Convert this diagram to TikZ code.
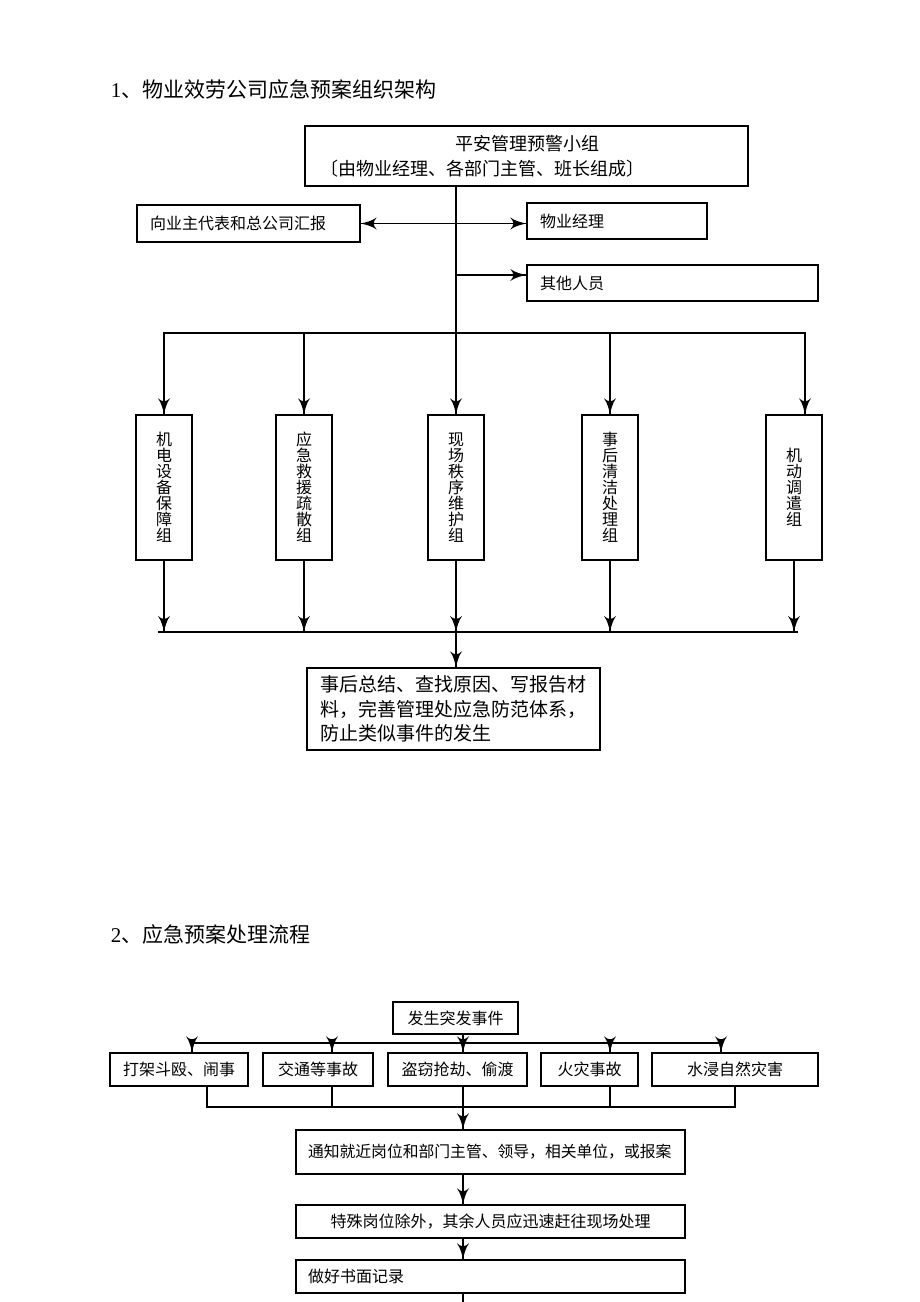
\documentclass[tikz,border=0pt]{standalone}
\usepackage{fontspec}
\usepackage{tikz}
\setmainfont{Liberation Serif}
\newfontfamily\cjk{Noto Sans CJK SC}
\usetikzlibrary{arrows}
\usetikzlibrary{decorations.markings}
\tikzset{->/.style = {decoration={markings,
                                  mark=at position 1 with {\arrow[scale=2.4]{latex'}}},
                      postaction={decorate}}}
\tikzset{<->/.style = {decoration={markings,
                                   mark=at position 0 with {\arrowreversed[scale=2.4]{latex'}},
                                   mark=at position 1 with {\arrow[scale=2.4]{latex'}}},
                       postaction={decorate}}}
\tikzset{box/.style = {draw, line width=1.3pt, inner sep=0pt, font=\cjk\fontsize{16}{20}\selectfont},
         lbox/.style = {box, align=left, inner xsep=13pt},
         vbox/.style = {box, align=center, minimum width=56pt, minimum height=145pt,
                        font=\cjk\fontsize{16}{16}\selectfont},
         title/.style = {anchor=west, font=\cjk\fontsize{21}{24}\selectfont}}

\begin{document}
\begin{tikzpicture}[x=1pt, y=-1pt, line width=1.3pt]
    \useasboundingbox (0, 0) rectangle (920, 1302);

    % 1: organisation
    \node [title] (title1) at (107, 90) {{\rmfamily 1}、物业效劳公司应急预案组织架构};

    \node [lbox, text width=413pt, inner xsep=15pt, minimum height=60pt,
           font=\cjk\fontsize{18}{25}\selectfont] (team) at (526.5, 156)
          {\hspace*{135pt}平安管理预警小组\\〔由物业经理、各部门主管、班长组成〕};
    \node [lbox, text width=197pt, minimum height=37pt] (report) at (248.5, 223.5) {向业主代表和总公司汇报};
    \node [lbox, text width=154pt, minimum height=36pt] (manager) at (617, 221) {物业经理};
    \node [lbox, text width=265pt, minimum height=36pt] (others) at (672.5, 283) {其他人员};

    \foreach \name/\x/\txt in {g1/164/{机\\电\\设\\备\\保\\障\\组}, g2/304/{应\\急\\救\\援\\疏\\散\\组},
                               g3/456/{现\\场\\秩\\序\\维\\护\\组}, g4/610/{事\\后\\清\\洁\\处\\理\\组},
                               g5/794/{机\\动\\调\\遣\\组}}
        \node [vbox] (\name) at (\x, 487.5) {\txt};

    \node [lbox, text width=267pt, minimum height=82pt,
           font=\cjk\fontsize{19}{24.5}\selectfont] (summary) at (453.5, 709)
          {事后总结、查找原因、写报告材\\料，完善管理处应急防范体系，\\防止类似事件的发生};

    \coordinate (s0) at (456, 186);
    \coordinate (o0) at (456, 275);
    \coordinate (tb) at (456, 333);
    \coordinate (tb5) at (805, 333);
    \coordinate (lb) at (456, 632);
    \coordinate (lb1) at (158, 632);
    \coordinate (lb5) at (798, 632);

    \draw [<->] (report.east) -- (report.east -| manager.west);
    \draw [->] (o0) -- (o0 -| others.west);
    \draw [->] (s0) -- (g3.north);
    \draw [->] (tb5) -| (g1.north);
    \draw [->] (g1.north |- tb) -| (tb5 |- g5.north);
    \foreach \g in {g2, g4}
        \draw [->] (\g.north |- tb) -- (\g.north);

    \draw (lb1) -- (lb5);
    \foreach \g in {g1, g2, g3, g4, g5}
        \draw [->] (\g.south) -- (\g.south |- lb);
    \draw [->] (lb) -- (lb |- summary.north);

    % 2: handling flow
    \node [title] (title2) at (107, 934) {{\rmfamily 2}、应急预案处理流程};

    \node [box, minimum width=125pt, minimum height=32pt] (event) at (455.5, 1018) {发生突发事件};
    \foreach \name/\x/\w/\txt in {c1/179/138/打架斗殴、闹事, c2/318/110/交通等事故, c3/457.5/139/盗窃抢劫、偷渡,
                                  c4/589.5/97/火灾事故, c5/735/166/水浸自然灾害}
        \node [box, minimum width=\w pt, minimum height=33pt] (\name) at (\x, 1069.5) {\txt};

    \node [lbox, text width=365pt, inner xsep=12pt, minimum height=44pt,
           font=\cjk\fontsize{15.8}{20}\selectfont] (notify) at (490.5, 1152)
          {通知就近岗位和部门主管、领导，相关单位，或报案};
    \node [box, minimum width=389pt, minimum height=33pt] (rush) at (490.5, 1221.5)
          {特殊岗位除外，其余人员应迅速赶往现场处理};
    \node [lbox, text width=365pt, inner xsep=12pt, minimum height=33pt] (record) at (490.5, 1276.5)
          {做好书面记录};

    \coordinate (e0) at (463, 1034);
    \coordinate (eb1) at (192, 1043);
    \coordinate (eb2) at (332, 1043);
    \coordinate (eb4) at (610, 1043);
    \coordinate (eb5) at (721, 1043);
    \coordinate (cb1) at (207, 1107);
    \coordinate (cb2) at (332, 1107);
    \coordinate (cb4) at (610, 1107);
    \coordinate (cb5) at (735, 1107);
    \coordinate (end) at (463, 1302);

    \draw [->] (e0) -- (e0 |- c3.north);
    \draw [->] (eb5) -| (eb1 |- c1.north);
    \draw [->] (eb1) -| (eb5 |- c5.north);
    \foreach \n in {2, 4}
        \draw [->] (eb\n) -- (eb\n |- c\n.north);

    \draw (cb1 |- c1.south) -- (cb1) -- (cb5) -- (cb5 |- c5.south);
    \foreach \n in {2, 4}
        \draw (cb\n |- c\n.south) -- (cb\n);
    \draw [->] (e0 |- c3.south) -- (e0 |- notify.north);
    \draw [->] (e0 |- notify.south) -- (e0 |- rush.north);
    \draw [->] (e0 |- rush.south) -- (e0 |- record.north);
    \draw (e0 |- record.south) -- (end);

\end{tikzpicture}
\end{document}
